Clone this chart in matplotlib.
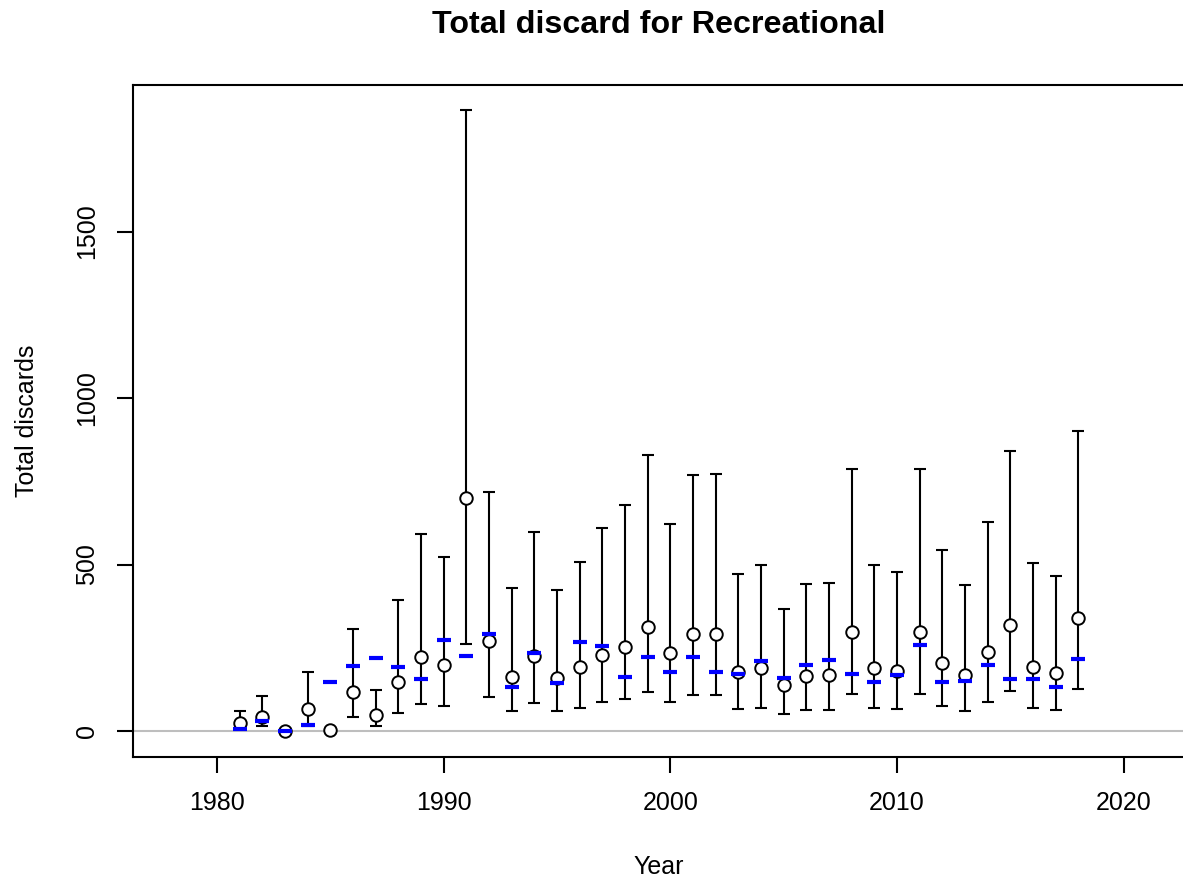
import numpy as np
import matplotlib
matplotlib.use("Agg")
import matplotlib.pyplot as plt

plt.rcParams['font.family'] = ['Liberation Sans', 'DejaVu Sans']

# 연도별 관측값, 신뢰구간, 예측값
years = np.arange(1981, 2019)
obs = [25, 43, 1, 67, 2, 116, 47, 148, 221, 198, 701, 270,
       163, 225, 160, 191, 229, 253, 313, 235, 291, 291,
       177, 188, 137, 166, 168, 297, 189, 180, 297, 205,
       167, 237, 319, 191, 175, 340]
upper = [61, 106, 3, 176, 5, 305, 122, 392, 591, 524, 1865, 717,
         431, 598, 424, 507, 609, 678, 829, 623, 770, 772,
         471, 500, 365, 442, 446, 787, 500, 477, 787, 544,
         440, 628, 842, 505, 466, 902]
lower = [8, 16, 0, 15, 1, 43, 16, 55, 82, 74, 262, 101,
         61, 84, 59, 70, 86, 95, 116, 88, 109, 109,
         66, 70, 51, 62, 62, 111, 70, 66, 111, 76,
         61, 88, 119, 70, 64, 126]
expected = [7, 31, 1, 19, 146, 194, 218, 191, 156, 274, 226, 290,
            132, 234, 144, 267, 255, 161, 223, 176, 223, 176,
            171, 210, 160, 199, 213, 172, 146, 169, 258, 146,
            150, 199, 157, 155, 133, 217]

obs = np.array(obs)
yerr = [obs - np.array(lower), np.array(upper) - obs]

fig = plt.figure(figsize=(11.83, 8.84), dpi=100)
# 오른쪽 테두리는 그림 밖으로 살짝 잘림
ax = fig.add_axes([133/1183, 127/884, 1052/1183, 672/884])

ax.axhline(0, color='#bebebe', lw=1.5, zorder=1)

ax.errorbar(years, obs, yerr=yerr, fmt='none', ecolor='black',
            elinewidth=1.5, capsize=4.5, capthick=1.5, zorder=2)
ax.plot(years, obs, 'o', ms=9, mfc='white', mec='black', mew=1.4, zorder=3)
ax.plot(years, expected, '_', ms=10.5, mew=3, color='blue', zorder=4)

ax.set_xlim(1976.3, 2022.7)
ax.set_ylim(-78, 1940)
ax.set_xticks([1980, 1990, 2000, 2010, 2020])
ax.set_yticks([0, 500, 1000, 1500])
ax.tick_params(length=11.5, width=1.5, labelsize=18, pad=13)
for lab in ax.get_yticklabels():
    lab.set_rotation(90)
    lab.set_va('center')
for s in ax.spines.values():
    s.set_linewidth(1.5)

ax.set_xlabel("Year", fontsize=18, labelpad=29)
ax.set_ylabel("Total discards", fontsize=18, labelpad=26)
fig.text(659/1183, 1 - 32.7/884, "Total discard for Recreational",
         ha='center', va='baseline', fontsize=23.2, fontweight='bold')

fig.savefig("out.png", dpi=100)
